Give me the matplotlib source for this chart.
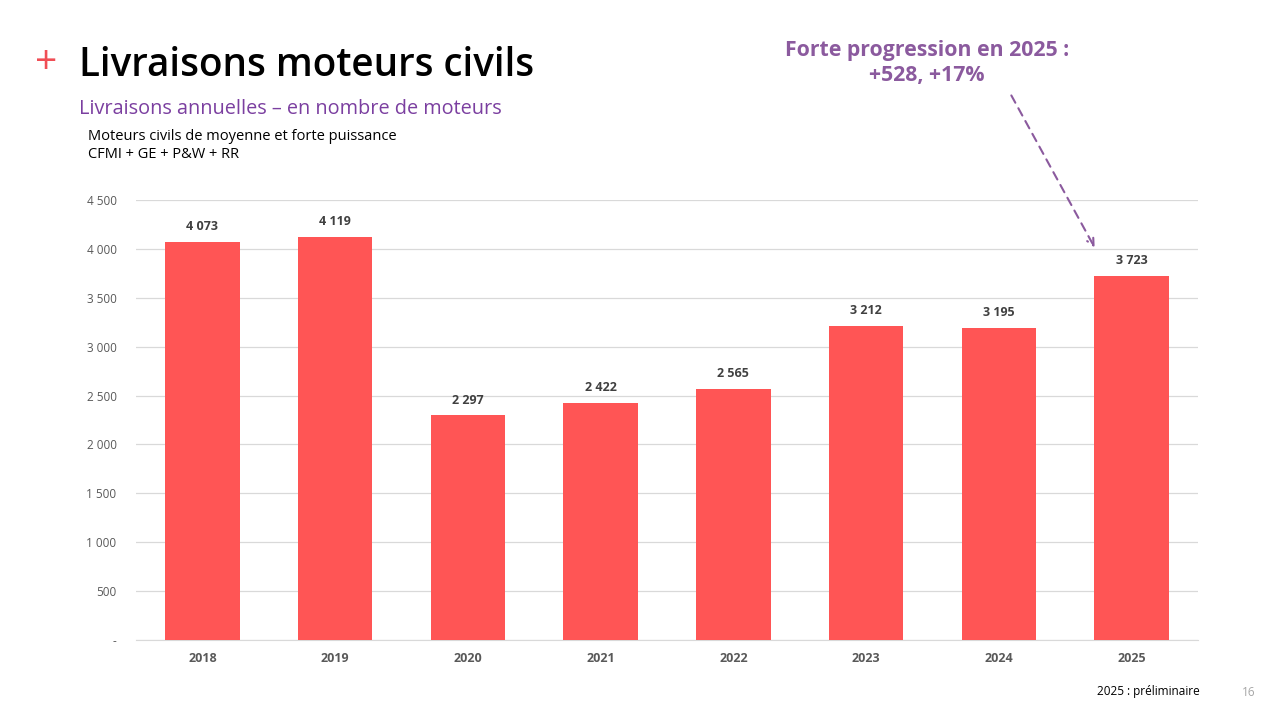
import matplotlib
matplotlib.use("Agg")
import matplotlib.pyplot as plt
from matplotlib.ticker import FuncFormatter

plt.rcParams['font.family'] = ['Open Sans', 'DejaVu Sans']

# data
years = ['2018', '2019', '2020', '2021', '2022', '2023', '2024', '2025']
deliveries = [4073, 4119, 2297, 2422, 2565, 3212, 3195, 3723]
yticks = [0, 500, 1000, 1500, 2000, 2500, 3000, 3500, 4000, 4500]

BAR = '#FF5555'
PURPLE = '#7B3FA0'
ANNOT = '#8B5A9E'


def fmt_fr(v, pos=None):
    "thousands with a space, zero as a dash"
    if v == 0:
        return '-'
    return f"{int(v):,}".replace(',', ' ')


fig = plt.figure(figsize=(12.8, 7.2), dpi=100)
ax = fig.add_axes([136/1280, 80/720, 1062/1280, 440/720])

x = range(len(years))
bars = ax.bar(x, deliveries, width=0.56, color=BAR, zorder=3)
for xi, v in zip(x, deliveries):
    ax.text(xi, v + 90, fmt_fr(v), ha='center', va='bottom',
            fontsize=9, fontweight='bold', color='#404040')

ax.set_xlim(-0.5, len(years) - 0.5)
ax.set_ylim(0, 4500)
ax.set_yticks(yticks)
ax.yaxis.set_major_formatter(FuncFormatter(fmt_fr))
ax.set_xticks(list(x))
ax.set_xticklabels(years, fontsize=9, fontweight='bold', color='#595959')
ax.tick_params(axis='y', labelsize=8.5, labelcolor='#595959', length=0, pad=14)
ax.tick_params(axis='x', length=0, pad=9)
ax.grid(axis='y', color='#D9D9D9', linewidth=0.9, zorder=0)
for s in ['top', 'right', 'left']:
    ax.spines[s].set_visible(False)
ax.spines['bottom'].set_color('#D9D9D9')

# header texts
fig.text(46/1280, 1 - 63/720, '+', fontsize=28, color='#F04E55',
         ha='center', va='center')
fig.text(79/1280, 1 - 66/720, 'Livraisons moteurs civils', fontsize=27.8,
         fontweight='semibold', color='black', va='center')
fig.text(79/1280, 1 - 109/720, 'Livraisons annuelles \u2013 en nombre de moteurs',
         fontsize=14.3, color=PURPLE, va='center')
fig.text(88/1280, 1 - 137/720, 'Moteurs civils de moyenne et forte puissance',
         fontsize=10.5, color='black', va='center')
fig.text(88/1280, 1 - 154/720, 'CFMI + GE + P&W + RR',
         fontsize=10.5, color='black', va='center')

fig.text(927/1280, 1 - 63/720, 'Forte progression en 2025 :\n+528, +17%',
         fontsize=15.3, fontweight='bold', color=ANNOT, ha='center',
         va='center', linespacing=1.3)
ax.annotate('', xy=(1096/1280, 1 - 250/720), xytext=(1010/1280, 1 - 93/720),
            xycoords='figure fraction', textcoords='figure fraction',
            arrowprops=dict(arrowstyle='->,head_length=0.5,head_width=0.25',
                            color=ANNOT, lw=1.5,
                            linestyle=(0, (4, 3))))

fig.text(1200/1280, 1 - 692/720, '2025 : pr\u00e9liminaire', fontsize=8.5,
         color='black', ha='right', va='center')
fig.text(1249/1280, 1 - 692/720, '16', fontsize=8.5, color='#A6A6A6',
         ha='center', va='center')

plt.savefig('out.png', dpi=100)
